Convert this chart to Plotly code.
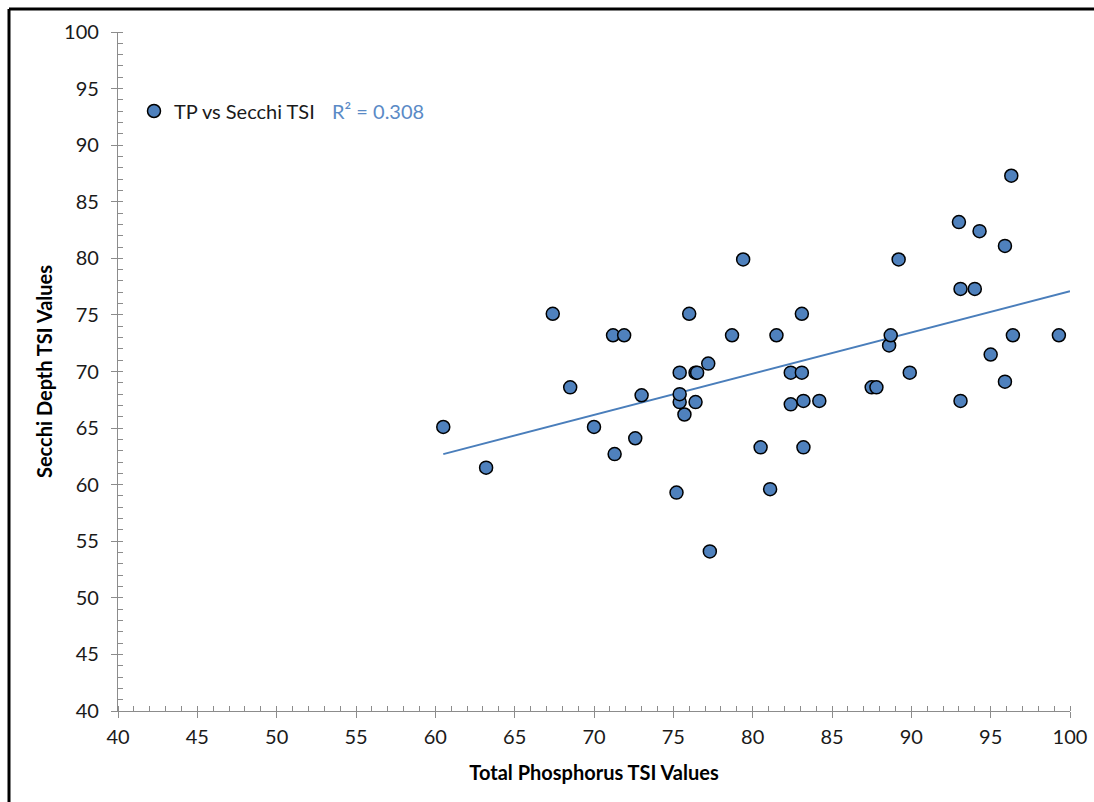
import plotly.graph_objects as go

# Total Phosphorus TSI values (x) and Secchi Depth TSI values (y)
tp_tsi = [60.5, 63.2, 67.4, 68.5, 70.0, 71.2, 71.3, 71.9, 72.6, 73.0,
          75.2, 75.4, 75.4, 75.4, 75.7, 76.0, 76.4, 76.5, 76.4, 77.2,
          77.3, 78.7, 79.4, 80.5, 81.1, 81.5, 82.4, 82.4, 83.1, 83.1,
          83.2, 83.2, 84.2, 87.5, 87.8, 88.6, 88.7, 89.2, 89.9, 93.0,
          93.1, 93.1, 94.0, 94.3, 95.0, 95.9, 95.9, 96.3, 96.4, 99.3]
secchi_tsi = [65.1, 61.5, 75.1, 68.6, 65.1, 73.2, 62.7, 73.2, 64.1, 67.9,
              59.3, 67.3, 68.0, 69.9, 66.2, 75.1, 69.9, 69.9, 67.3, 70.7,
              54.1, 73.2, 79.9, 63.3, 59.6, 73.2, 69.9, 67.1, 75.1, 69.9,
              67.4, 63.3, 67.4, 68.6, 68.6, 72.3, 73.2, 79.9, 69.9, 83.2,
              77.3, 67.4, 77.3, 82.4, 71.5, 81.1, 69.1, 87.3, 73.2, 73.2]

# Linear trendline end points
trend_x = [60.5, 100.0]
trend_y = [62.7, 77.1]

series_name = "TP vs Secchi TSI"
r2_label = "R² = 0.308"
x_title = "Total Phosphorus TSI Values"
y_title = "Secchi Depth TSI Values"
x_range = [40, 100]
y_range = [40, 100]

FONT = "Lato, 'Open Sans', sans-serif"
AXIS_GREY = "#8c8c8c"

fig = go.Figure()
fig.add_trace(go.Scatter(
    x=trend_x, y=trend_y, mode="lines",
    line=dict(color="#4A7EBB", width=2),
    showlegend=False, hoverinfo="skip"))
fig.add_trace(go.Scatter(
    x=tp_tsi, y=secchi_tsi, mode="markers", name=series_name,
    marker=dict(size=13, color="#4F81BD",
                line=dict(color="#000000", width=1.5))))

axis_common = dict(
    showgrid=False, zeroline=False, showline=True, automargin=False,
    linecolor=AXIS_GREY, linewidth=1.3,
    ticks="outside", ticklen=6, tickwidth=1.3, tickcolor=AXIS_GREY,
    tickfont=dict(family=FONT, size=20, color="#1a1a1a"),
    dtick=5, tick0=40,
    minor=dict(ticks="inside", ticklen=5, tickwidth=1, tickcolor=AXIS_GREY, dtick=1),
)

fig.update_xaxes(range=x_range, title=dict(text=f"<b>{x_title}</b>",
                 font=dict(family=FONT, size=20, color="#000000"), standoff=18),
                 ticklabelstandoff=2, **axis_common)
fig.update_yaxes(range=y_range, title=dict(text=f"<b>{y_title}</b>",
                 font=dict(family=FONT, size=20, color="#000000"), standoff=6),
                 ticklabelstandoff=8, **axis_common)

fig.update_layout(
    width=1094, height=802,
    margin=dict(l=118, r=24, t=32, b=91),
    plot_bgcolor="white", paper_bgcolor="white",
    legend=dict(x=(134 - 118) / 952, y=(711 - 111) / 679, yanchor="middle", xanchor="left",
                bgcolor="rgba(0,0,0,0)",
                font=dict(family=FONT, size=20, color="#1a1a1a"),
                itemwidth=30),
    annotations=[dict(text=r2_label, xref="paper", yref="paper",
                      x=(330 - 118) / 952, y=(711 - 111) / 679,
                      xanchor="left", yanchor="middle", showarrow=False,
                      font=dict(family=FONT, size=20, color="#5A8AC6"))],
    shapes=[
        dict(type="line", xref="paper", yref="paper",
             x0=(9 - 118) / 952, x1=(1094 - 118) / 952,
             y0=(711 - 9) / 679, y1=(711 - 9) / 679,
             line=dict(color="#000000", width=3)),
        dict(type="line", xref="paper", yref="paper",
             x0=(9 - 118) / 952, x1=(9 - 118) / 952,
             y0=(711 - 9) / 679, y1=(711 - 802) / 679,
             line=dict(color="#000000", width=3)),
    ],
)

fig.write_html("out.html", config={"displayModeBar": False})
